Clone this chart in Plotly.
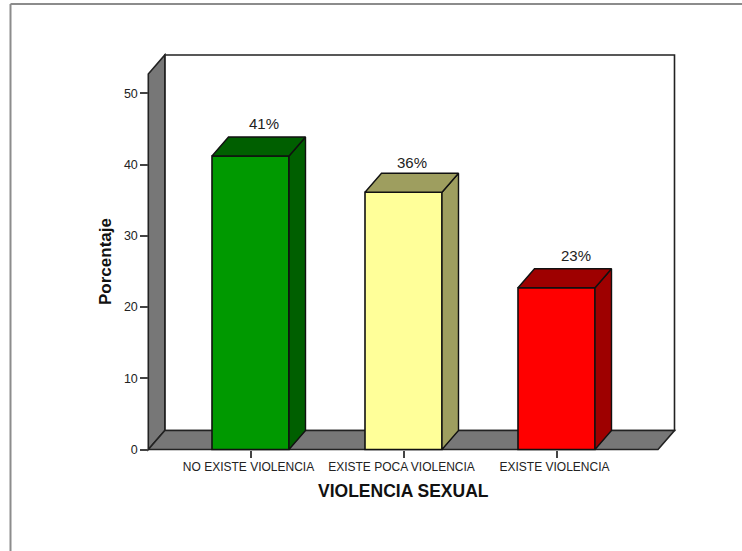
import plotly.graph_objects as go

categories = ["NO EXISTE VIOLENCIA", "EXISTE POCA VIOLENCIA", "EXISTE VIOLENCIA"]
values = [41.2, 36.1, 22.7]
labels = ["41%", "36%", "23%"]
y_ticks = [0, 10, 20, 30, 40, 50]

front_colors = ["#009900", "#FFFF99", "#FF0000"]
dark_colors = ["#005F00", "#9E9E5F", "#9E0000"]
label_shift = [13, 8, 19]
label_lift = [3, 0, 3]

W, H = 742, 551
PX_CAT = 153.0
PX_UNIT = 7.125
X0_PX, Y0_PX = 250.5, 449.5
L, R, T, B = 145, 680, 52, 453
x_range = [(L - X0_PX) / PX_CAT, (R - X0_PX) / PX_CAT]
y_range = [(Y0_PX - B) / PX_UNIT, (Y0_PX - T) / PX_UNIT]
DX = 16.5 / PX_CAT
DY = 19 / PX_UNIT
BW = 77 / PX_CAT
XL = (148.3 - X0_PX) / PX_CAT
XR = (658 - X0_PX) / PX_CAT
YT = 52.7
EDGE = "#222222"
WALL = "#777777"

def px(x):
    return (x - L) / (R - L)

def py(y):
    return (B - y) / (B - T)

fig = go.Figure()

def poly(xs, ys, fill):
    fig.add_trace(go.Scatter(
        x=xs + xs[:1], y=ys + ys[:1], mode="lines", fill="toself",
        fillcolor=fill, line=dict(color="#111111", width=1.4),
        hoverinfo="skip", showlegend=False, cliponaxis=False))

fig.add_trace(go.Bar(
    x=list(range(len(categories))), y=values, width=BW,
    marker=dict(color=front_colors, line=dict(color="#111111", width=1.6)),
    showlegend=False, cliponaxis=False))

annotations = []
for i, v in enumerate(values):
    r = i + BW / 2
    l = i - BW / 2
    poly([r, r + DX, r + DX, r], [0, DY, v + DY, v], dark_colors[i])
    poly([l, l + DX, r + DX, r], [v, v + DY, v + DY, v], dark_colors[i])
    annotations.append(dict(
        x=i, y=v + DY, text=labels[i], showarrow=False, xshift=label_shift[i],
        yanchor="bottom", yshift=label_lift[i],
        font=dict(family="Liberation Sans", size=15, color="#222222")))

annotations.append(dict(
    xref="paper", yref="paper", x=px(403), y=py(491), text="<b>VIOLENCIA SEXUAL</b>",
    showarrow=False, xanchor="center", yanchor="middle",
    font=dict(family="Liberation Sans", size=17.5, color="#111111")))
annotations.append(dict(
    xref="paper", yref="paper", x=px(105), y=py(262), text="<b>Porcentaje</b>",
    showarrow=False, xanchor="center", yanchor="middle", textangle=-90,
    font=dict(family="Liberation Sans", size=17, color="#111111")))

def shape_poly(pts, fill):
    path = "M " + " L ".join(f"{a},{b}" for a, b in pts) + " Z"
    return dict(type="path", path=path, xref="x", yref="y", layer="below",
                fillcolor=fill, line=dict(color=EDGE, width=1.6))

shapes = [
    shape_poly([(XL + DX, DY), (XR + DX, DY), (XR + DX, YT + DY), (XL + DX, YT + DY)], "#FFFFFF"),
    shape_poly([(XL, 0), (XL + DX, DY), (XL + DX, YT + DY), (XL, YT)], WALL),
    shape_poly([(XL, 0), (XR, 0), (XR + DX, DY), (XL + DX, DY)], WALL),
    dict(type="line", xref="paper", yref="paper", layer="below",
         x0=px(10.5), x1=px(W), y0=py(4), y1=py(4),
         line=dict(color="#8C8C8C", width=2)),
    dict(type="line", xref="paper", yref="paper", layer="below",
         x0=px(10.5), x1=px(10.5), y0=py(4), y1=py(H),
         line=dict(color="#8C8C8C", width=2)),
]

fig.update_layout(
    width=W, height=H, autosize=False,
    margin=dict(l=L, r=W - R, t=T, b=H - B, pad=0),
    paper_bgcolor="white", plot_bgcolor="rgba(0,0,0,0)",
    font=dict(family="Liberation Sans", color="#222222"),
    shapes=shapes, annotations=annotations,
    xaxis=dict(range=x_range, tickmode="array", tickvals=list(range(len(categories))),
               ticktext=categories, ticks="outside", ticklen=7, tickwidth=1.5,
               tickcolor="#444444", showgrid=False, zeroline=False, showline=False,
               anchor="free", position=py(Y0_PX), ticklabelshift=-2, ticklabelstandoff=-1,
               tickfont=dict(size=12)),
    yaxis=dict(range=y_range, tickmode="array", tickvals=y_ticks, ticks="outside",
               ticklen=8, tickwidth=1.5, tickcolor="#444444", showgrid=False,
               zeroline=False, showline=False, tickfont=dict(size=12.5),
               anchor="free", position=px(148.3)),
)
fig.write_html("out.html", config={"displayModeBar": False},
               post_script="document.body.style.margin='0';")
